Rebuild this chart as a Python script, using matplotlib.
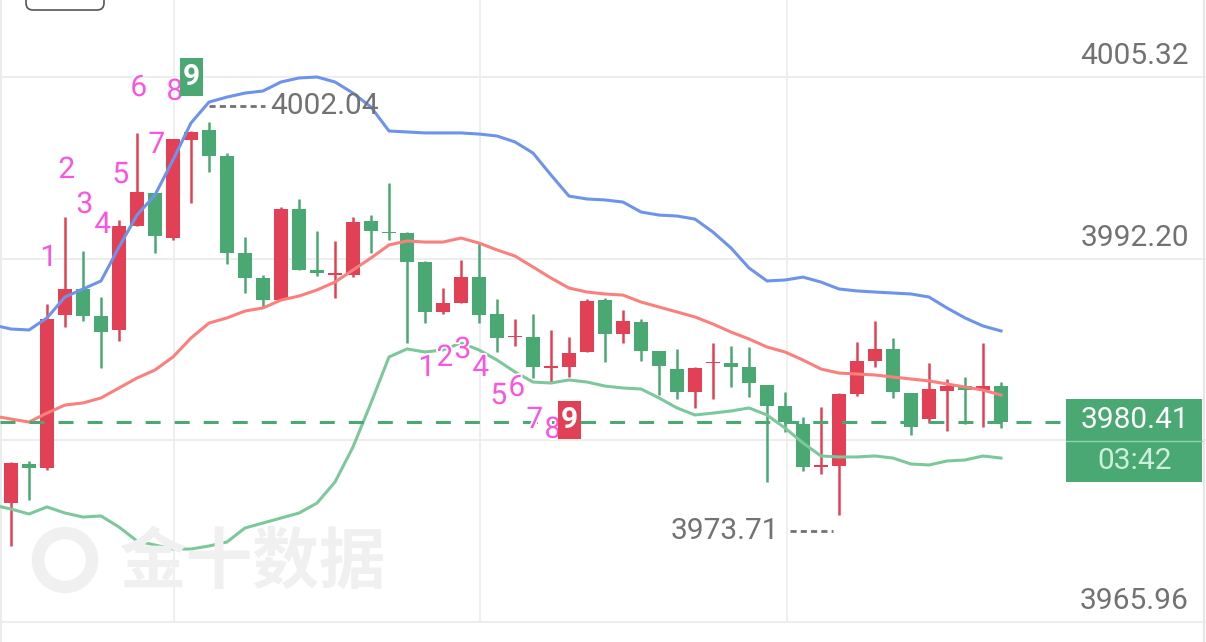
import matplotlib
matplotlib.use("Agg")
import matplotlib.pyplot as plt
import matplotlib.patheffects as pe
from matplotlib.patches import Rectangle, Circle, FancyBboxPatch
from matplotlib.transforms import IdentityTransform
import numpy as np

# one-minute candles, oldest first
opens = [3974.55, 3977.37, 3977.08, 3988.13, 3990.01, 3988.06, 3987.05, 3994.56, 3996.94, 3993.69,
         4000.77, 4001.49, 3999.62, 3992.61, 3990.80, 3989.21, 3995.79, 3991.38, 3991.05, 3991.02,
         3994.92, 3994.09, 3994.05, 3991.96, 3988.35, 3989.00, 3990.88, 3988.20, 3986.51, 3986.54,
         3984.34, 3984.38, 3985.46, 3989.21, 3986.76, 3987.63, 3985.53, 3984.23, 3982.57, 3984.63,
         3984.66, 3984.38, 3983.08, 3981.56, 3980.26, 3977.19, 3977.23, 3982.43, 3984.81, 3985.68,
         3982.50, 3980.62, 3982.64, 3983.00, 3982.71, 3983.00]
highs = [3977.50, 3977.59, 3988.93, 3995.21, 3992.75, 3989.43, 3994.99, 4001.28, 3996.94, 4000.84,
         4001.42, 4002.04, 3999.83, 3993.77, 3991.02, 3995.93, 3996.51, 3994.20, 3993.47, 3995.21,
         3995.35, 3997.66, 3994.12, 3992.03, 3990.08, 3992.10, 3993.33, 3989.29, 3987.84, 3988.20,
         3987.05, 3986.54, 3989.29, 3989.36, 3988.49, 3987.84, 3985.53, 3985.68, 3984.38, 3986.11,
         3985.89, 3985.82, 3983.08, 3982.57, 3980.77, 3981.49, 3982.50, 3986.18, 3987.70, 3986.47,
         3982.50, 3984.66, 3983.51, 3983.65, 3986.11, 3983.29]
lows = [3971.45, 3974.77, 3976.94, 3987.27, 3987.70, 3984.31, 3986.25, 3994.56, 3992.61, 3993.55,
        3996.22, 3998.46, 3991.82, 3989.72, 3988.71, 3989.21, 3991.38, 3990.95, 3989.36, 3990.88,
        3992.61, 3993.55, 3986.11, 3987.55, 3988.20, 3989.00, 3987.55, 3985.46, 3985.89, 3983.58,
        3983.29, 3983.65, 3985.46, 3984.74, 3986.11, 3984.81, 3982.35, 3982.06, 3981.41, 3982.06,
        3982.93, 3982.21, 3976.07, 3979.68, 3976.87, 3976.65, 3973.71, 3982.28, 3984.38, 3982.14,
        3979.47, 3980.33, 3979.75, 3980.26, 3980.04, 3979.97]
closes = [3977.44, 3977.08, 3987.84, 3990.01, 3988.06, 3986.90, 3994.56, 3997.02, 3993.84, 4000.84,
          4001.35, 3999.62, 3992.61, 3990.80, 3989.21, 3995.79, 3991.38, 3991.16, 3991.09, 3994.85,
          3994.20, 3994.05, 3991.96, 3988.35, 3989.00, 3990.88, 3988.13, 3986.47, 3986.54, 3984.38,
          3984.38, 3985.39, 3989.14, 3986.76, 3987.70, 3985.53, 3984.45, 3982.57, 3984.31, 3984.66,
          3984.38, 3983.22, 3981.56, 3980.41, 3977.15, 3977.23, 3982.43, 3984.81, 3985.68, 3982.57,
          3980.05, 3982.79, 3983.00, 3982.71, 3983.00, 3980.41]

# bollinger bands, starting one bar before the first visible candle
boll_upper = [3987.41, 3987.12, 3987.05, 3987.92, 3989.43, 3990.01, 3990.59, 3993.04, 3995.35, 3996.80,
              3999.33, 4002.00, 4003.51, 4003.87, 4004.16, 4004.31, 4004.96, 4005.25, 4005.32, 4004.96,
              4004.16, 4003.15, 4001.42, 4001.35, 4001.28, 4001.28, 4001.28, 4001.20, 4001.06, 4000.63,
              3999.83, 3998.24, 3996.72, 3996.51, 3996.44, 3996.29, 3995.57, 3995.35, 3995.28, 3995.06,
              3994.12, 3992.97, 3991.53, 3990.59, 3990.66, 3990.87, 3990.51, 3990.01, 3989.87, 3989.79,
              3989.72, 3989.65, 3989.43, 3988.64, 3987.92, 3987.34, 3986.98]
boll_mid = [3980.84, 3980.62, 3980.40, 3981.05, 3981.63, 3981.78, 3982.14, 3982.86, 3983.58, 3984.16,
            3985.10, 3986.47, 3987.55, 3987.92, 3988.42, 3988.64, 3989.21, 3989.50, 3989.94, 3990.51,
            3991.38, 3992.25, 3993.19, 3993.48, 3993.40, 3993.40, 3993.69, 3993.33, 3992.83, 3992.39,
            3991.60, 3990.80, 3990.08, 3989.79, 3989.65, 3989.57, 3989.07, 3988.71, 3988.35, 3987.99,
            3987.48, 3986.90, 3986.40, 3985.82, 3985.46, 3984.88, 3984.23, 3983.94, 3983.87, 3983.80,
            3983.65, 3983.51, 3983.37, 3983.15, 3982.93, 3982.71, 3982.35]
boll_lower = [3974.41, 3974.12, 3973.76, 3974.27, 3973.83, 3973.54, 3973.62, 3972.82, 3971.81, 3971.52,
              3971.23, 3971.23, 3971.45, 3971.74, 3972.75, 3973.11, 3973.47, 3973.83, 3974.55, 3976.07,
              3978.60, 3981.78, 3985.10, 3985.68, 3985.46, 3985.61, 3986.11, 3985.61, 3984.88, 3984.02,
              3983.29, 3983.22, 3983.44, 3983.29, 3983.00, 3982.86, 3982.79, 3982.14, 3981.42, 3980.91,
              3981.05, 3981.20, 3981.42, 3980.91, 3979.97, 3978.89, 3977.95, 3977.88, 3977.88, 3977.95,
              3977.80, 3977.37, 3977.30, 3977.59, 3977.66, 3977.95, 3977.80]

price_ticks = [4005.32, 3992.20, 3979.08, 3965.96]
time_grid = [9.05, 26.05, 43.1]

# TD sequential counts
td_up_start = 2
td_up_y = [3992.25, 3998.60, 3996.08, 3994.63, 3998.24, 4004.52, 4000.41, 4004.24, 4005.32]
td_dn_start = 23
td_dn_y = [3984.30, 3985.03, 3985.60, 3984.30, 3982.28, 3982.86, 3980.55, 3979.83, 3980.55]

last_price = 3980.41
countdown = "03:42"

RED = '#e24155'
GREEN = '#4aa873'
MAGENTA = '#fa55e1'
GRID = '#ececec'
GRAY = '#727272'

plt.rcParams['font.family'] = ['Roboto', 'DejaVu Sans']

W, H = 1206, 642
fig = plt.figure(figsize=(W / 100, H / 100), dpi=100)
ax = fig.add_axes([0, 0, 1, 1])
ymin, ymax = 3964.516, 4010.881
ax.set_xlim(-0.611, 66.389)
ax.set_ylim(ymin, ymax)
ax.axis('off')
ppx = (ymax - ymin) / H        # price per pixel
xpx = lambda p: (p - 11) / 18.0  # pixel column -> bar index

# grid
for p in price_ticks:
    ax.axhline(p, color=GRID, lw=1.3, zorder=0)
ax.vlines(time_grid, price_ticks[-1], ymax, color=GRID, lw=1.2, zorder=0)
ax.axvline(xpx(1), color=GRID, lw=1.5, zorder=0)
ax.axvline(xpx(1204), color='#e6e6e6', lw=1.5, zorder=0)

# watermark
fig.text(120 / W, 1 - 563 / H, '金十数据', fontsize=48, fontweight='bold',
         family=['Noto Sans CJK SC'], color='#f0f0f0', va='center', ha='left', zorder=0)
fig.add_artist(Circle((65, H - 560), 27, fill=False, lw=9, color='#f0f0f0',
                      transform=IdentityTransform(), zorder=0))

# candles
o = np.array(opens); c = np.array(closes)
x = np.arange(len(o))
cols = [RED if cc >= oo else GREEN for oo, cc in zip(o, c)]
ax.vlines(x, lows, highs, color=cols, lw=1.8, zorder=2)
ax.bar(x, np.maximum(np.abs(c - o), 0.1), bottom=np.minimum(o, c), width=0.82,
       color=cols, linewidth=0, zorder=3)

# bollinger
bx = np.arange(-1, len(o))
ax.plot(bx, boll_upper, color='#6e93eb', lw=2.2, zorder=4, solid_joinstyle='round')
ax.plot(bx, boll_mid, color='#fa807d', lw=2.2, zorder=4, solid_joinstyle='round')
ax.plot(bx, boll_lower, color='#7dc89b', lw=2.2, zorder=4, solid_joinstyle='round')

# last price line
ax.plot([xpx(0), xpx(1066)], [last_price, last_price], color=GREEN, lw=2.2,
        dashes=(4.9, 4.6), zorder=5)

# high / low markers (low is taken after the high)
hi_i = int(np.argmax(highs))
lo_i = hi_i + int(np.argmin(lows[hi_i:]))
hy = highs[hi_i] + 16 * ppx
ax.plot([hi_i, xpx(265)], [hy, hy], color=GRAY, lw=2, dashes=(2.2, 1.5), zorder=5)
ax.text(xpx(270), hy, '%.2f' % highs[hi_i], color=GRAY, fontsize=21.5, ha='left', va='center', zorder=6)
ly = lows[lo_i] - 16 * ppx
ax.plot([xpx(790), xpx(833)], [ly, ly], color=GRAY, lw=2, dashes=(2.2, 1.5), zorder=5)
ax.text(xpx(779), ly, '%.2f' % lows[lo_i], color=GRAY, fontsize=21.5, ha='right', va='center', zorder=6)

# TD sequential numbers
stroke = [pe.withStroke(linewidth=2.5, foreground='white')]
for start, ys, boxcol in [(td_up_start, td_up_y, GREEN), (td_dn_start, td_dn_y, RED)]:
    for k, yv in enumerate(ys):
        xi = start + k
        if k < 8:
            ax.text(xi + 0.1, yv, str(k + 1), color=MAGENTA, fontsize=21.5, ha='center',
                    va='center', path_effects=stroke, zorder=7)
        else:
            ax.add_patch(Rectangle((xi + 0.03 - 0.64, yv - 19 * ppx), 1.28, 38 * ppx,
                                   color=boxcol, lw=0, zorder=7))
            ax.text(xi + 0.03, yv, '9', color='white', fontsize=21.5, fontweight='bold',
                    ha='center', va='center', zorder=8)

# last price box
bx0, bx1 = xpx(1066), xpx(1202)
box_lo, box_hi = last_price - 60 * ppx, last_price + 23 * ppx

# right axis labels (the one under the price box is hidden)
for p in price_ticks:
    ty = p + 21 * ppx
    if box_lo < ty < box_hi:
        continue
    ax.text(xpx(1189), ty, '%.2f' % p, color=GRAY, fontsize=21.5,
            ha='right', va='center', zorder=6)

ax.add_patch(Rectangle((bx0, box_lo), bx1 - bx0, box_hi - box_lo,
                       color=GREEN, lw=0, zorder=8))
ax.plot([bx0, bx1], [last_price - 19 * ppx] * 2, color='#8fd3ad', lw=1, zorder=9)
ax.text(xpx(1135), last_price + 2 * ppx, '%.2f' % last_price, color='white', fontsize=21.5,
        ha='center', va='center', zorder=9)
ax.text(xpx(1135), last_price - 39 * ppx, countdown, color='#cdeedb', fontsize=21.5,
        ha='center', va='center', zorder=9)

# partial toolbar box at top left
fig.add_artist(FancyBboxPatch((26, H - 10), 78, 30, boxstyle='round,pad=0,rounding_size=7',
                              fill=False, ec='#555555', lw=1.2, transform=IdentityTransform()))

fig.savefig('out.png', dpi=100)
